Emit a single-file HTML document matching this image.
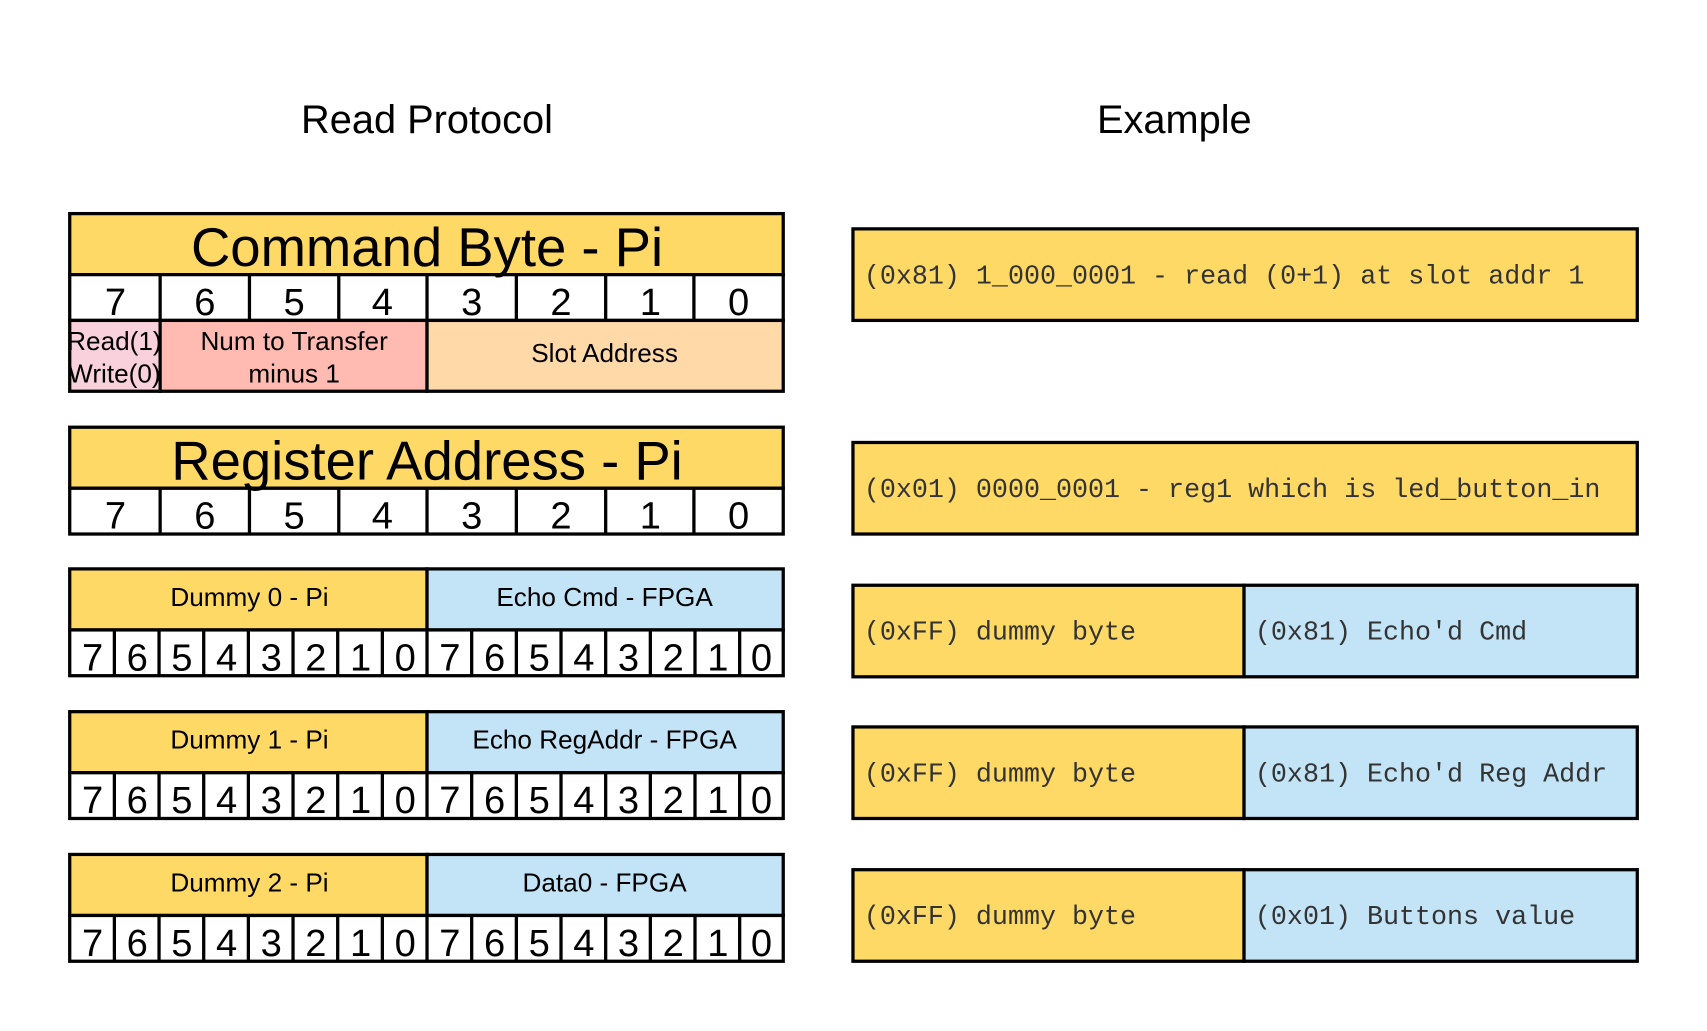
<!DOCTYPE html>
<html><head><meta charset="utf-8"><style>html,body{margin:0;padding:0;background:#fff}svg{display:block}</style></head>
<body>
<svg width="1707" height="1031" viewBox="0 0 1567 946" preserveAspectRatio="none" xmlns="http://www.w3.org/2000/svg" font-family="Liberation Sans, sans-serif">
<defs><clipPath id="c1"><rect x="64" y="294" width="83" height="65"/></clipPath></defs>
<g text-anchor="middle">
<text x="392" y="122" font-size="36.5">Read Protocol</text>
<text x="1078" y="122" font-size="36.5">Example</text>
</g>
<g stroke="#000" stroke-width="3">
<rect x="64" y="196" width="655" height="56" fill="#ffd966"/>
<rect x="64" y="252" width="655" height="42" fill="#fff"/>
<rect x="64" y="294" width="83" height="65" fill="#f8d1dc"/>
<rect x="147" y="294" width="245" height="65" fill="#ffbbb1"/>
<rect x="392" y="294" width="327" height="65" fill="#ffd9a7"/>
<path d="M147 252v42M229 252v42M311 252v42M392 252v42M474 252v42M556 252v42M637 252v42"/>
<rect x="64" y="392" width="655" height="56" fill="#ffd966"/>
<rect x="64" y="448" width="655" height="42" fill="#fff"/>
<path d="M147 448v42M229 448v42M311 448v42M392 448v42M474 448v42M556 448v42M637 448v42"/>
<g id="d0">
<rect x="64" y="522" width="328" height="56" fill="#ffd966"/>
<rect x="392" y="522" width="327" height="56" fill="#c2e4f6"/>
<rect x="64" y="578" width="655" height="42" fill="#fff"/>
<path d="M105 578v42M146 578v42M187 578v42M228 578v42M269 578v42M310 578v42M351 578v42M392 578v42M433 578v42M474 578v42M515 578v42M556 578v42M597 578v42M638 578v42M679 578v42"/>
</g>
<use href="#d0" y="131"/>
<use href="#d0" y="262"/>
<rect x="783" y="210" width="720" height="84" fill="#ffd966"/>
<rect x="783" y="406" width="720" height="84" fill="#ffd966"/>
<rect x="783" y="537" width="359" height="84" fill="#ffd966"/><rect x="1142" y="537" width="361" height="84" fill="#c2e4f6"/>
<rect x="783" y="667" width="359" height="84" fill="#ffd966"/><rect x="1142" y="667" width="361" height="84" fill="#c2e4f6"/>
<rect x="783" y="798" width="359" height="84" fill="#ffd966"/><rect x="1142" y="798" width="361" height="84" fill="#c2e4f6"/>
</g>
<g text-anchor="middle" fill="#000">
<text x="392" y="244" font-size="50">Command Byte - Pi</text>
<text x="392" y="440" font-size="50">Register Address - Pi</text>
<g font-size="35">
<text x="106" y="289">7</text><text x="188" y="289">6</text><text x="270" y="289">5</text><text x="351" y="289">4</text><text x="433" y="289">3</text><text x="515" y="289">2</text><text x="597" y="289">1</text><text x="678" y="289">0</text>
<text x="106" y="485">7</text><text x="188" y="485">6</text><text x="270" y="485">5</text><text x="351" y="485">4</text><text x="433" y="485">3</text><text x="515" y="485">2</text><text x="597" y="485">1</text><text x="678" y="485">0</text>
</g>
<g font-size="24">
<text x="270" y="321">Num to Transfer</text><text x="270" y="351">minus 1</text>
<text x="555" y="332">Slot Address</text>
<text x="229" y="556">Dummy 0 - Pi</text><text x="555" y="556">Echo Cmd - FPGA</text>
<text x="229" y="687">Dummy 1 - Pi</text><text x="555" y="687">Echo RegAddr - FPGA</text>
<text x="229" y="818">Dummy 2 - Pi</text><text x="555" y="818">Data0 - FPGA</text>
</g>
<g clip-path="url(#c1)" font-size="24"><text x="105" y="321">Read(1)</text><text x="105" y="351">Write(0)</text></g>
<g id="b0" font-size="35">
<text x="85" y="615">7</text><text x="126" y="615">6</text><text x="167" y="615">5</text><text x="208" y="615">4</text><text x="249" y="615">3</text><text x="290" y="615">2</text><text x="331" y="615">1</text><text x="372" y="615">0</text>
<text x="413" y="615">7</text><text x="454" y="615">6</text><text x="495" y="615">5</text><text x="536" y="615">4</text><text x="577" y="615">3</text><text x="618" y="615">2</text><text x="659" y="615">1</text><text x="699" y="615">0</text>
</g>
<use href="#b0" y="131"/>
<use href="#b0" y="262"/>
</g>
<g font-family="Liberation Mono, monospace" font-size="24.5" fill="#333">
<text x="793" y="260">(0x81) 1_000_0001 - read (0+1) at slot addr 1</text>
<text x="793" y="456">(0x01) 0000_0001 - reg1 which is led_button_in</text>
<text x="793" y="587">(0xFF) dummy byte</text><text x="1152" y="587">(0x81) Echo'd Cmd</text>
<text x="793" y="717">(0xFF) dummy byte</text><text x="1152" y="717">(0x81) Echo'd Reg Addr</text>
<text x="793" y="848">(0xFF) dummy byte</text><text x="1152" y="848">(0x01) Buttons value</text>
</g>
</svg>
</body></html>
